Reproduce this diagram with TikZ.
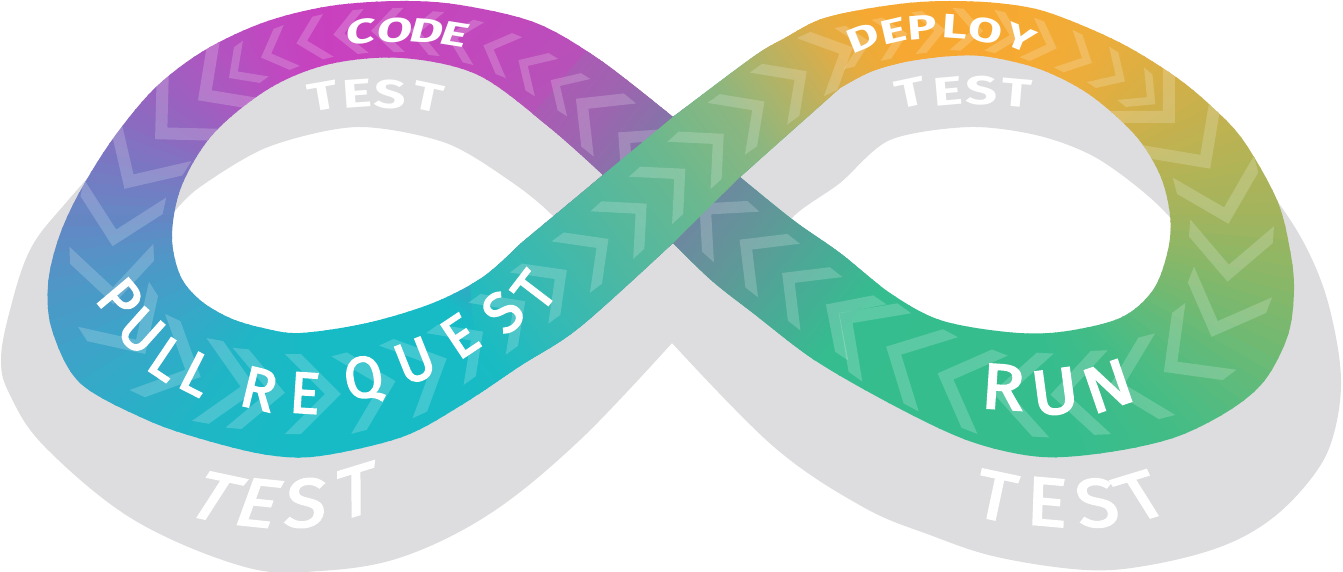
\documentclass[tikz,border=0pt]{standalone}
\usepackage{fontspec}
\newfontfamily\labfont{Fira Sans}
\newfontfamily\labmid{Fira Sans}[FakeBold=3]
\usetikzlibrary{decorations.markings}

\definecolor{grayband}{HTML}{DDDDDF}
\definecolor{lcA}{HTML}{16BBC5}\definecolor{lcB}{HTML}{16BBC5}\definecolor{lcC}{HTML}{AE5AB6}
\definecolor{lcD}{HTML}{BF4ABC}\definecolor{lcE}{HTML}{C744BE}\definecolor{lcF}{HTML}{C940BF}
\definecolor{lcG}{HTML}{BE4AC0}\definecolor{lcH}{HTML}{A85AC0}\definecolor{lcI}{HTML}{8C6AC0}
\definecolor{lcJ}{HTML}{6E80C3}\definecolor{lcK}{HTML}{4E98C7}\definecolor{lcL}{HTML}{34A9C8}
\definecolor{lcM}{HTML}{1FB6C6}
\definecolor{rcA}{HTML}{35BD8F}\definecolor{rcB}{HTML}{36BD8E}\definecolor{rcC}{HTML}{45BC86}
\definecolor{rcD}{HTML}{5EBB7C}\definecolor{rcE}{HTML}{7CB86D}\definecolor{rcF}{HTML}{A2B45E}
\definecolor{rcG}{HTML}{BCB252}\definecolor{rcH}{HTML}{D6AF46}\definecolor{rcI}{HTML}{ECAD3A}
\definecolor{rcJ}{HTML}{F5AA33}\definecolor{rcK}{HTML}{F8A830}\definecolor{rcL}{HTML}{F6A832}
\definecolor{rcM}{HTML}{F0AA36}
\definecolor{ucA}{HTML}{B852B9}\definecolor{ucB}{HTML}{9E64B0}\definecolor{ucC}{HTML}{8474A8}
\definecolor{ucD}{HTML}{6E88A0}\definecolor{ucE}{HTML}{609898}\definecolor{ucF}{HTML}{4AAA96}
\definecolor{ucG}{HTML}{38BA90}\definecolor{ucH}{HTML}{35BD8F}
\definecolor{ocA}{HTML}{16BBC5}\definecolor{ocB}{HTML}{1ABBC3}\definecolor{ocC}{HTML}{30BAB8}
\definecolor{ocD}{HTML}{4AB8A4}\definecolor{ocE}{HTML}{5AB89A}\definecolor{ocF}{HTML}{68B890}
\definecolor{ocG}{HTML}{78B888}\definecolor{ocH}{HTML}{8CB680}\definecolor{ocI}{HTML}{AAB46C}
\definecolor{ocJ}{HTML}{C8B058}\definecolor{ocK}{HTML}{E4AC42}\definecolor{ocL}{HTML}{F0AA36}
\definecolor{ocM}{HTML}{F4A934}

% fan of coloured wedges around a lobe centre: cx cy a1 a2 c1 c2 n
\newcommand\fanpiece[7]{%
  \foreach \k in {1,...,#7}{%
    \pgfmathsetmacro\wgA{#3+(\k-1)*(#4-#3)/#7}%
    \pgfmathsetmacro\wgB{#3+\k*(#4-#3)/#7+0.5}%
    \pgfmathsetmacro\wgP{100*(\k-0.5)/#7}%
    \fill[#6!\wgP!#5] (#1,#2) -- ({#1+900*cos(\wgA)},{#2-900*sin(\wgA)}) -- ({#1+900*cos(\wgB)},{#2-900*sin(\wgB)}) -- cycle;
  }}
% strips across a strand: ox oy ux uy s1 s2 c1 c2 n
\newcommand\strippiece[9]{%
  \foreach \k in {1,...,#9}{%
    \pgfmathsetmacro\wgA{#5+(\k-1)*(#6-#5)/#9}%
    \pgfmathsetmacro\wgB{#5+\k*(#6-#5)/#9+0.8}%
    \pgfmathsetmacro\wgP{100*(\k-0.5)/#9}%
    \fill[#8!\wgP!#7] ({#1+(\wgA)*(#3)-250*(#4)},{#2+(\wgA)*(#4)+250*(#3)}) -- ({#1+(\wgB)*(#3)-250*(#4)},{#2+(\wgB)*(#4)+250*(#3)}) -- ({#1+(\wgB)*(#3)+250*(#4)},{#2+(\wgB)*(#4)-250*(#3)}) -- ({#1+(\wgA)*(#3)+250*(#4)},{#2+(\wgA)*(#4)-250*(#3)}) -- cycle;
  }}

\tikzset{
  chev/.style n args={3}{decorate, decoration={markings,
     mark=between positions 0 and 1 step #3 with {\fill[white, fill opacity=0.19]
       (#1/2,0) -- (-#1/2,#1) -- (-#1/2-#2,#1) -- (#1/2-#2,0) -- (-#1/2-#2,-#1) -- (-#1/2,-#1) -- cycle;}}},
  lab/.style={text=white, inner sep=0pt, outer sep=0pt},
  fsmall/.style={lab, font={\labfont\bfseries\fontsize{34}{34}\selectfont}},
  ftest/.style={lab, font={\labfont\bfseries\fontsize{40}{40}\selectfont}},
  fbig/.style={lab, font={\labmid\fontsize{58}{58}\selectfont}},
  frun/.style={lab, font={\labmid\fontsize{64}{64}\selectfont}},
  fshadow/.style={lab, font={\labmid\fontsize{68}{68}\selectfont}}
}

\begin{document}
\begin{tikzpicture}[x=1pt,y=-1pt]
\useasboundingbox (0,0) rectangle (1343,572);
\fill[white] (0,0) rectangle (1343,572);

% ---------- gray shadow figure eight ----------
\fill[grayband, even odd rule]
  (672,343) -- plot[smooth, tension=0.6] coordinates {(672,343) (580,440) (491,513) (402,557) (320,571) (245,567) (134,520) (45,447) (10,395) (1,360) (10,310) (30,250) (64,205) (120,145) (180,100) (280,55) (400,30) (520,50) (600,85) (673,150) (750,90) (850,45) (950,30) (1070,45) (1160,90) (1235,150) (1280,205) (1310,255) (1330,310) (1341,380) (1332,440) (1310,480) (1270,520) (1220,547) (1150,565) (1086,570) (997,557) (930,535) (863,507) (774,447) (672,343)} -- cycle
  plot[smooth cycle] coordinates {(150,240) (172,214) (200,187) (268,147) (357,127) (446,143) (513,183) (554,217) (590,262) (560,330) (480,370) (310,400) (200,370) (160,320)}
  plot[smooth cycle] coordinates {(793,217) (840,183) (890,140) (970,127) (1040,136) (1100,160) (1165,212) (1210,280) (1150,375) (1000,400) (880,350) (775,255)};

% ---------- coloured ribbon ----------
\begin{scope}[even odd rule]
\clip
  (673,117) -- plot[smooth, tension=0.55] coordinates {(673,117) (600,60) (536,23) (460,5) (400,1) (330,6) (265,22) (205,50) (155,88) (112,140) (78,195) (58,240) (48,285) (52,330) (80,383) (147,420) (205,440) (268,455) (320,456) (402,437) (460,406) (520,366) (580,327) (673,243)}
  -- plot[smooth, tension=0.55] coordinates {(673,243) (711,280) (753,313) (819,363) (908,413) (975,443) (1042,457) (1110,452) (1176,437) (1230,410) (1265,380) (1288,335) (1294,290) (1290,250) (1277,200) (1243,140) (1210,105) (1176,77) (1130,48) (1086,27) (1040,10) (997,3) (950,1) (908,3) (860,10) (819,20) (785,38) (753,57) (673,117)} -- cycle
  (603,175) -- (520,244) -- plot[smooth, tension=0.55] coordinates {(520,244) (483,277) (433,303) (367,323) (300,333) (263,328) (230,318) (200,300) (180,275) (172,235) (182,185) (214,133) (270,88) (330,64) (402,58) (478,75) (549,127) (603,175)} -- cycle
  (740,177) -- (840,88) -- plot[smooth, tension=0.55] coordinates {(840,88) (870,72) (905,62) (952,56) (990,57) (1042,70) (1090,95) (1135,135) (1160,175) (1170,215) (1168,250) (1153,290) (1120,318) (1060,332) (1007,332) (940,320) (890,293) (840,253) (793,220) (740,177)} -- cycle;

% left lobe colours
\begin{scope}
\clip (-10,-10) rectangle (673,600);
\fanpiece{340}{215}{-100}{-40}{lcA}{lcB}{24}
\fanpiece{340}{215}{-40}{20}{lcB}{lcC}{24}
\fanpiece{340}{215}{20}{45}{lcC}{lcD}{10}
\fanpiece{340}{215}{45}{70}{lcD}{lcE}{10}
\fanpiece{340}{215}{70}{95}{lcE}{lcF}{10}
\fanpiece{340}{215}{95}{115}{lcF}{lcG}{8}
\fanpiece{340}{215}{115}{135}{lcG}{lcH}{8}
\fanpiece{340}{215}{135}{155}{lcH}{lcI}{8}
\fanpiece{340}{215}{155}{175}{lcI}{lcJ}{8}
\fanpiece{340}{215}{175}{195}{lcJ}{lcK}{8}
\fanpiece{340}{215}{195}{215}{lcK}{lcL}{8}
\fanpiece{340}{215}{215}{235}{lcL}{lcM}{8}
\fanpiece{340}{215}{235}{260}{lcM}{lcA}{10}
\end{scope}
% right lobe colours
\begin{scope}
\clip (672,-10) rectangle (1360,600);
\fanpiece{1000}{215}{-215}{-70}{rcA}{rcB}{20}
\fanpiece{1000}{215}{-70}{-50}{rcB}{rcC}{8}
\fanpiece{1000}{215}{-50}{-35}{rcC}{rcD}{6}
\fanpiece{1000}{215}{-35}{-20}{rcD}{rcE}{6}
\fanpiece{1000}{215}{-20}{0}{rcE}{rcF}{8}
\fanpiece{1000}{215}{0}{20}{rcF}{rcG}{8}
\fanpiece{1000}{215}{20}{40}{rcG}{rcH}{8}
\fanpiece{1000}{215}{40}{60}{rcH}{rcI}{8}
\fanpiece{1000}{215}{60}{80}{rcI}{rcJ}{8}
\fanpiece{1000}{215}{80}{100}{rcJ}{rcK}{8}
\fanpiece{1000}{215}{100}{120}{rcK}{rcL}{8}
\fanpiece{1000}{215}{120}{145}{rcL}{rcM}{10}
\end{scope}
% under strand
\begin{scope}
\clip (521,128) -- (599,36) -- (889,274) -- (811,366) -- cycle;
\strippiece{673}{180}{0.776}{0.632}{-200}{-100}{ucA}{ucB}{33}
\strippiece{673}{180}{0.776}{0.632}{-100}{-40}{ucB}{ucC}{20}
\strippiece{673}{180}{0.776}{0.632}{-40}{40}{ucC}{ucD}{27}
\strippiece{673}{180}{0.776}{0.632}{40}{100}{ucD}{ucE}{20}
\strippiece{673}{180}{0.776}{0.632}{100}{160}{ucE}{ucF}{20}
\strippiece{673}{180}{0.776}{0.632}{160}{220}{ucF}{ucG}{20}
\strippiece{673}{180}{0.776}{0.632}{220}{280}{ucG}{ucH}{20}
\end{scope}
% chevrons of the under strand
\path[chev={34}{16}{54pt}] (840,314) -- (800,287) -- (740,240) -- (673,180) -- (620,134) -- (560,86);
% over strand
\begin{scope}
\clip (470,285) -- (673,117) -- (800,12) -- (830,-20) -- (905,70) -- (840,88) -- (740,177) -- (540,374) -- (480,420) -- cycle;
\strippiece{673}{180}{0.796}{-0.606}{-300}{-250}{ocA}{ocB}{17}
\strippiece{673}{180}{0.796}{-0.606}{-250}{-190}{ocB}{ocC}{20}
\strippiece{673}{180}{0.796}{-0.606}{-190}{-107}{ocC}{ocD}{28}
\strippiece{673}{180}{0.796}{-0.606}{-107}{-50}{ocD}{ocE}{19}
\strippiece{673}{180}{0.796}{-0.606}{-50}{0}{ocE}{ocF}{17}
\strippiece{673}{180}{0.796}{-0.606}{0}{40}{ocF}{ocG}{13}
\strippiece{673}{180}{0.796}{-0.606}{40}{90}{ocG}{ocH}{17}
\strippiece{673}{180}{0.796}{-0.606}{90}{132}{ocH}{ocI}{14}
\strippiece{673}{180}{0.796}{-0.606}{132}{174}{ocI}{ocJ}{14}
\strippiece{673}{180}{0.796}{-0.606}{174}{210}{ocJ}{ocK}{12}
\strippiece{673}{180}{0.796}{-0.606}{210}{240}{ocK}{ocL}{10}
\strippiece{673}{180}{0.796}{-0.606}{240}{300}{ocL}{ocM}{20}
\end{scope}
% remaining chevrons
\path[chev={22}{11}{38pt}] (560,86) -- (515,58) -- (480,44) -- (440,34) -- (400,30) -- (365,31) -- (330,35) -- (298,43) -- (270,54) -- (240,70) -- (215,88);
\path[chev={42}{17}{58pt}] (215,88) -- (190,106) -- (170,125) -- (150,148) -- (135,172) -- (122,203) -- (115,235) -- (112,262) -- (113,290) -- (121,316) -- (135,338) -- (158,357) -- (188,371) -- (225,384) -- (265,391);
\path[chev={40}{16}{56pt}] (265,391) -- (298,394) -- (330,394) -- (365,389) -- (400,380) -- (437,363) -- (470,341);
\path[chev={32}{15}{52pt}] (470,341) -- (520,305) -- (603,243) -- (673,180) -- (740,119) -- (800,76) -- (830,58) -- (860,44);
\path[chev={21}{11}{38pt}] (860,44) -- (905,34) -- (952,29) -- (997,32) -- (1042,43) -- (1078,56) -- (1110,72) -- (1137,89) -- (1160,108);
\path[chev={42}{17}{58pt}] (1160,108) -- (1184,132) -- (1204,160) -- (1220,192) -- (1228,222) -- (1230,250) -- (1226,300) -- (1217,323) -- (1202,343) -- (1173,365) -- (1138,381) -- (1090,393) -- (1042,395) -- (1005,393) -- (970,386) -- (934,372) -- (900,354) -- (868,334) -- (840,314);
\end{scope}

% ---------- labels ----------
\foreach \ch/\x/\y/\r [count=\i] in {C/361/32/7, O/395/30/1, D/427/31/-4, E/455/34/-9}
  \node[fsmall, rotate=\r, xslant=0.2, xscale=1.5] (code\i) at (\x,\y) {\ch};
\foreach \ch/\x/\y/\r [count=\i] in {D/863/38/22, E/893/31/13, P/922/27/5, L/955/27/-4, O/986/31/-12, Y/1020/38/-22}
  \node[fsmall, rotate=\r, xscale=1.45] (deploy\i) at (\x,\y) {\ch};
\foreach \ch/\x/\y/\r [count=\i] in {T/323/96/10, E/357/94/4, S/390/94/-3, T/428/97/-12}
  \node[ftest, rotate=\r, xscale=1.4] (testa\i) at (\x,\y) {\ch};
\foreach \ch/\x/\y/\r [count=\i] in {T/910/93/12, E/948/91/5, S/982/91/0, T/1017/93/-5}
  \node[ftest, rotate=\r, xscale=1.4] (testb\i) at (\x,\y) {\ch};
\foreach \ch/\x/\y [count=\i] in {P/120/299, U/141/331, L/167/359, L/197/374, R/259/389, E/305/393, Q/364/380, U/415/361, E/460/336, S/503/312, T/534/291}{
  \pgfmathsetmacro\prrot{atan2(\y-129,322-\x)-90}
  \node[fbig, rotate=\prrot, xscale=0.97] (pr\i) at (\x,\y) {\ch};
}
\foreach \ch/\x/\y [count=\i] in {R/1003/387, U/1055/392, N/1108/386}{
  \pgfmathsetmacro\prrot{atan2(\y-130,1020-\x)-90}
  \node[frun, rotate=\prrot, xscale=1.1] (run\i) at (\x,\y) {\ch};
}
\foreach \ch/\x/\y/\r/\k [count=\i] in {T/215/497/-12/0.38, E/259/503/-6/0.25, S/306/503/3/0.15, T/356/491/17/0.3}
  \node[fshadow, rotate=\r, xslant=\k, xscale=1.12] (testc\i) at (\x,\y) {\ch};
\foreach \ch/\x/\y/\r/\k [count=\i] in {T/996/496/-12/0, E/1047/502/-5/-0.05, S/1097/503/4/-0.1, T/1141/496/17/-0.27}
  \node[fshadow, rotate=\r, xslant=\k, xscale=1.12] (testd\i) at (\x,\y) {\ch};
\end{tikzpicture}
\end{document}
